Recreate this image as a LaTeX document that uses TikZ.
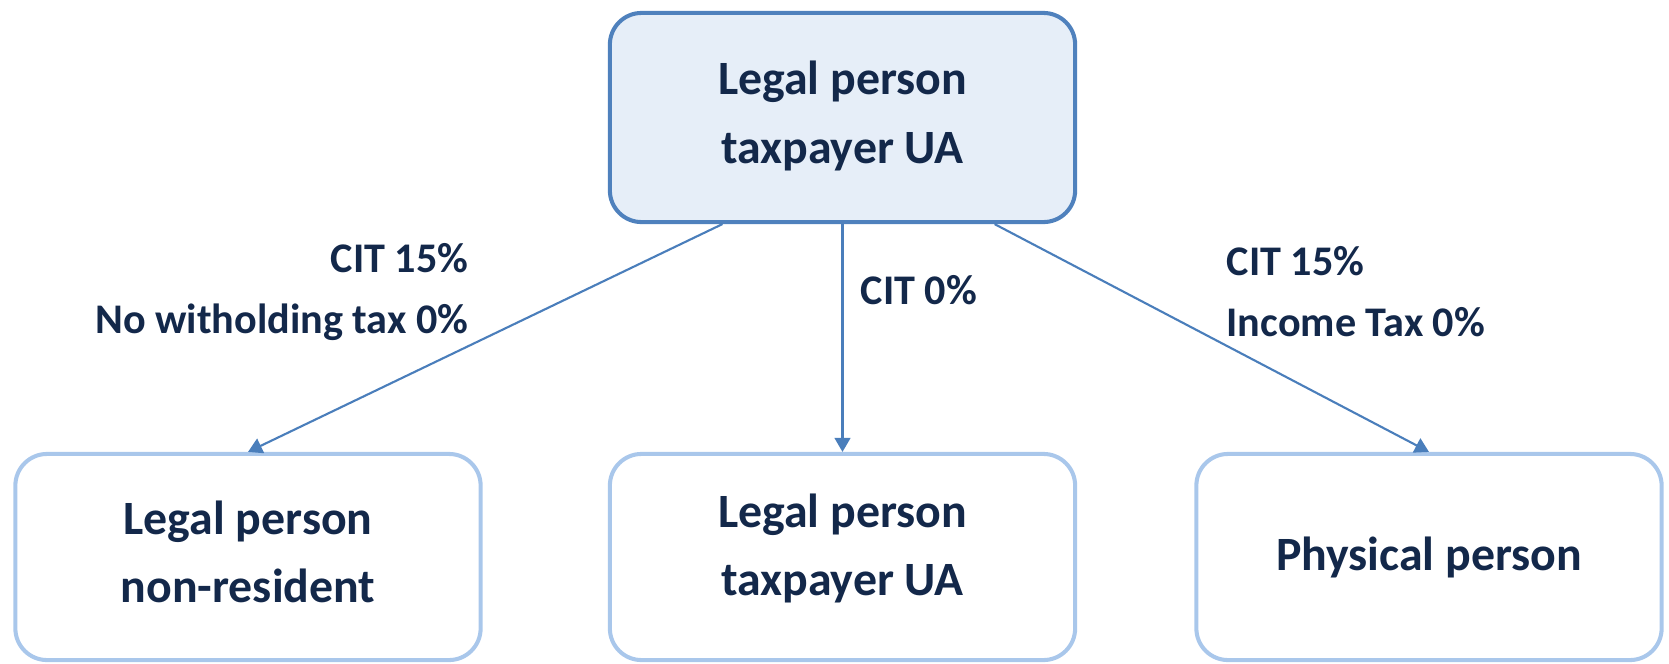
\documentclass[tikz,border=0pt]{standalone}
\usepackage{fontspec}
\setmainfont{Carlito}
\usetikzlibrary{arrows.meta, positioning}
\definecolor{cblue}{HTML}{4F81BD}
\definecolor{clight}{HTML}{A9C7EB}
\definecolor{cfill}{HTML}{E6EEF8}
\definecolor{cnavy}{HTML}{13284A}
\definecolor{carrow}{HTML}{4A7EBB}
\newcommand\lift[1]{\rule[-#1]{0pt}{0pt}}
\tikzset{
  every picture/.style={x=0.01cm, y=-0.01cm, text=cnavy},
  box/.style={draw=#1, rounded corners=9pt, align=center, line width=1.15pt,
    minimum width=4.65cm, minimum height=2.06cm, font=\fontsize{13.6}{19.4}\selectfont\bfseries},
  box/.default=clight,
  arrow/.style={-{Triangle[length=4pt, width=4.5pt]}, draw=carrow, line width=0.6pt},
  note/.style={inner sep=0pt, font=\fontsize{12}{17.3}\selectfont\bfseries},
}
\begin{document}
\begin{tikzpicture}
  \useasboundingbox (0,0) rectangle (1669,663);
  \node[box=cblue, fill=cfill, minimum height=2.09cm] (top) at (842.5,117.5) {Legal person\\taxpayer UA\lift{3pt}};
  \node[box] (nonres) at (248,557) {Legal person\\non-resident\lift{3pt}};
  \node[box] (payer) at (842.5,557) {Legal person\\taxpayer UA\lift{7.2pt}};
  \node[box] (phys) at (1429,557) {Physical person};
  \draw[arrow] ([xshift=-1.2cm]top.south) -- (nonres.north);
  \draw[arrow] (top.south) -- (payer.north);
  \draw[arrow] ([xshift=1.52cm]top.south) -- (phys.north);
  \node[note, align=right, anchor=east] (citleft) at (469,292) {CIT 15\%\\No witholding tax 0\%};
  \node[note, anchor=west] (citmid) at (860,290) {CIT 0\%};
  \node[note, align=left, anchor=west] (citright) at (1226,292) {CIT 15\%\\Income Tax 0\%};
\end{tikzpicture}
\end{document}
